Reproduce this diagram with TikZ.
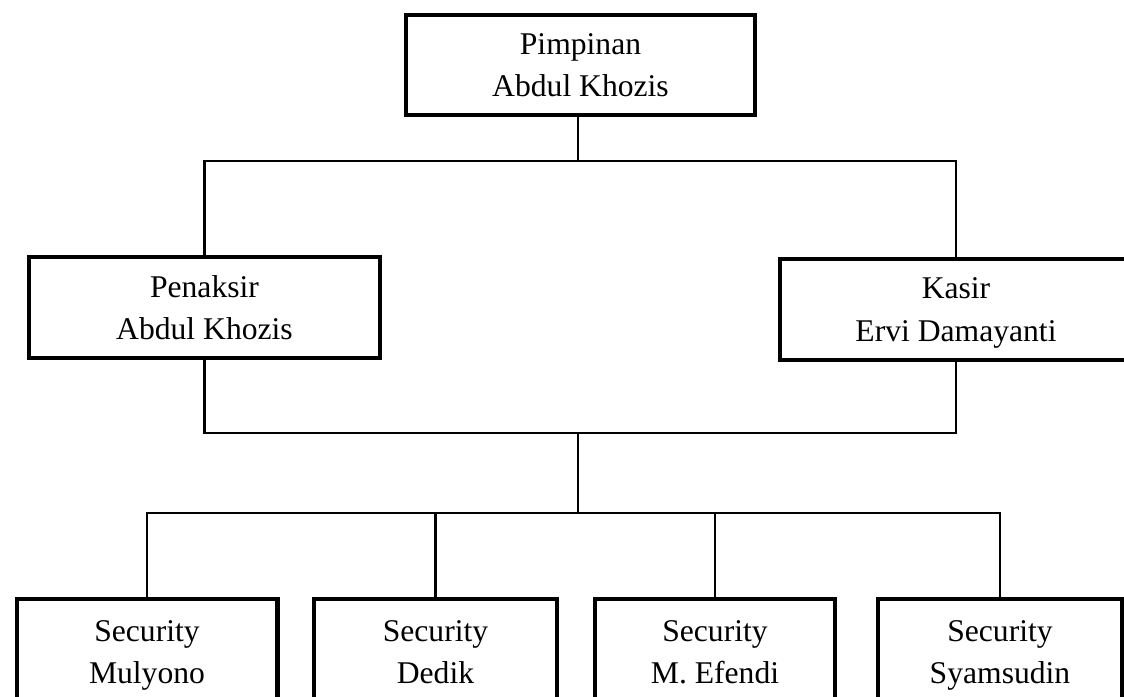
\documentclass[tikz,border=0pt]{standalone}
\usepackage{fontspec}
\setmainfont{Liberation Serif}
\usepackage{tikz}

\begin{document}
\begin{tikzpicture}[x=0.02cm, y=-0.02cm,
	box/.style={draw, line width=2.3pt, align=center, inner sep=0pt,
		font=\fontsize{18pt}{24pt}\selectfont, text depth=0pt},
	garis/.style={line width=1.2pt}]
	\useasboundingbox (0,0) rectangle (1124,696);
	\node[box, minimum width=6.98cm, minimum height=2cm] (pim) at (580.5,65) {Pimpinan\\Abdul Khozis};
	\node[box, minimum width=7.02cm, minimum height=2.02cm] (pen) at (204.5,307.5) {Penaksir\\Abdul Khozis};
	\node[box, minimum width=7.04cm, minimum height=2.02cm] (kas) at (956,309.5) {Kasir\\Ervi Damayanti};
	\node[box, minimum width=5.22cm, minimum height=2.12cm] (sec1) at (147,652) {Security\\Mulyono};
	\node[box, minimum width=4.86cm, minimum height=2.12cm] (sec2) at (435.5,652) {Security\\Dedik};
	\node[box, minimum width=4.8cm, minimum height=2.12cm] (sec3) at (715,652) {Security\\M. Efendi};
	\node[box, minimum width=4.88cm, minimum height=2.12cm] (sec4) at (1000,652) {Security\\Syamsudin};
	\coordinate (j1) at (578,161);
	\coordinate (j2) at (578,433);
	\coordinate (j3) at (578,513);
	\draw[garis] (pim.south -| j1) -- (j1);
	\draw[garis] (pen.north) |- (j1) -| (kas.north);
	\draw[garis] (pen.south) |- (j2) -| (kas.south);
	\draw[garis] (j2) -- (j3);
	\draw[garis] (sec1.north) |- (j3) -| (sec4.north);
	\draw[garis] (sec2.north) -- (sec2.north |- j3);
	\draw[garis] (sec3.north) -- (sec3.north |- j3);
\end{tikzpicture}
\end{document}
